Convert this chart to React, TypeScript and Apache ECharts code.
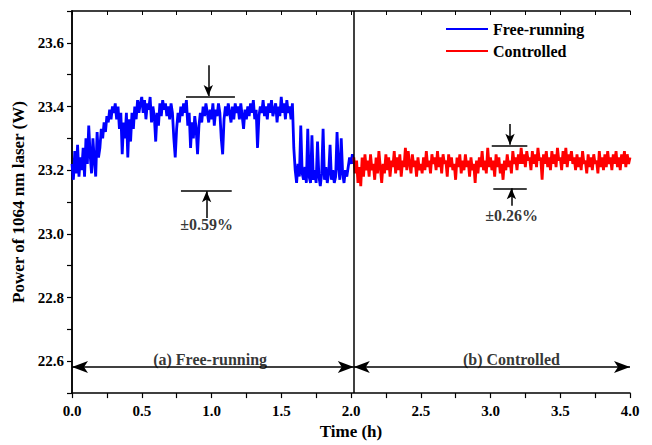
import React, { useEffect, useRef } from "react";
import * as echarts from "echarts";

// Sampling step of the recorded traces (hours)
const SAMPLE_STEP = 0.01;
const FREE_START = 0.0;
const CTRL_START = 2.02;

// Free-running laser power (W)
const freeRunning: number[] = [
  23.22, 23.17, 23.26, 23.19, 23.28, 23.18, 23.24, 23.2, 23.27, 23.18,
  23.3, 23.22, 23.34, 23.25, 23.19, 23.3, 23.23, 23.18, 23.32, 23.24,
  23.27, 23.33, 23.3, 23.35, 23.32, 23.37, 23.35, 23.39, 23.36, 23.4,
  23.38, 23.41, 23.36, 23.4, 23.33, 23.38, 23.25, 23.35, 23.3, 23.38,
  23.24, 23.36, 23.29, 23.38, 23.33, 23.4, 23.36, 23.42, 23.38, 23.41,
  23.43, 23.38, 23.42, 23.36, 23.41, 23.39, 23.43, 23.35, 23.4, 23.37,
  23.29, 23.38, 23.34, 23.41, 23.37, 23.42, 23.39, 23.41, 23.37, 23.4,
  23.36, 23.41, 23.38, 23.3, 23.24, 23.33, 23.38, 23.35, 23.4, 23.37,
  23.41, 23.38, 23.42, 23.34, 23.38, 23.27, 23.35, 23.3, 23.37, 23.33,
  23.25, 23.34, 23.38, 23.35, 23.4, 23.37, 23.41, 23.38, 23.35, 23.39,
  23.36, 23.41, 23.34, 23.39, 23.37, 23.41, 23.38, 23.3, 23.25, 23.36,
  23.4, 23.37, 23.41, 23.38, 23.35, 23.4, 23.36, 23.41, 23.38, 23.4,
  23.36, 23.41, 23.37, 23.33, 23.39, 23.36, 23.4, 23.37, 23.41, 23.38,
  23.42, 23.36, 23.39, 23.27, 23.37, 23.4, 23.38, 23.42, 23.37, 23.4,
  23.36, 23.41, 23.38, 23.42, 23.37, 23.39, 23.41, 23.35, 23.4, 23.37,
  23.43, 23.38, 23.41, 23.36, 23.42, 23.38, 23.4, 23.36, 23.41, 23.27,
  23.2, 23.16, 23.22, 23.18, 23.34, 23.19, 23.17, 23.21, 23.16, 23.33,
  23.18, 23.16, 23.31, 23.17, 23.2, 23.16, 23.29, 23.18, 23.15, 23.19,
  23.33, 23.17, 23.21, 23.16, 23.19, 23.28, 23.17, 23.2, 23.16, 23.18,
  23.32, 23.21, 23.17, 23.3, 23.19, 23.16, 23.2, 23.18, 23.21, 23.24,
  23.22, 23.25, 23.22,
];

// Controlled laser power (W)
const controlled: number[] = [
  23.24, 23.19, 23.23, 23.16, 23.21, 23.15, 23.24, 23.18, 23.25, 23.2,
  23.23, 23.18, 23.25, 23.2, 23.22, 23.17, 23.24, 23.19, 23.26, 23.21,
  23.16, 23.22, 23.19, 23.25, 23.2, 23.24, 23.18, 23.23, 23.21, 23.26,
  23.19, 23.24, 23.2, 23.25, 23.18, 23.23, 23.21, 23.27, 23.2, 23.26,
  23.22, 23.19, 23.25, 23.21, 23.23, 23.18, 23.24, 23.2, 23.22, 23.19,
  23.24, 23.2, 23.26, 23.21, 23.23, 23.19, 23.25, 23.22, 23.24, 23.2,
  23.26, 23.21, 23.24, 23.19, 23.25, 23.22, 23.23, 23.18, 23.25, 23.21,
  23.24, 23.2, 23.22, 23.17, 23.24, 23.21, 23.25, 23.19, 23.23, 23.2,
  23.25, 23.21, 23.23, 23.18, 23.24, 23.2, 23.22, 23.16, 23.23, 23.19,
  23.24, 23.21, 23.26, 23.2, 23.23, 23.19, 23.27, 23.21, 23.24, 23.2,
  23.23, 23.18, 23.25, 23.21, 23.24, 23.19, 23.22, 23.17, 23.23, 23.2,
  23.25, 23.21, 23.23, 23.19, 23.26, 23.22, 23.24, 23.2, 23.25, 23.22,
  23.27, 23.22, 23.25, 23.21, 23.26, 23.23, 23.24, 23.2, 23.26, 23.22,
  23.25, 23.21, 23.27, 23.23, 23.24, 23.17, 23.25, 23.22, 23.26, 23.21,
  23.24, 23.2, 23.26, 23.22, 23.25, 23.21, 23.27, 23.23, 23.24, 23.2,
  23.26, 23.22, 23.27, 23.21, 23.25, 23.23, 23.26, 23.22, 23.24, 23.2,
  23.25, 23.21, 23.24, 23.2, 23.26, 23.22, 23.23, 23.19, 23.25, 23.21,
  23.24, 23.2, 23.25, 23.22, 23.23, 23.19, 23.26, 23.21, 23.24, 23.2,
  23.25, 23.21, 23.26, 23.22, 23.24, 23.2, 23.25, 23.22, 23.26, 23.21,
  23.24, 23.2, 23.25, 23.22, 23.26, 23.21, 23.25, 23.22, 23.24,
];

// Annotation texts
const seriesNames = ["Free-running", "Controlled"];
const regionLabels = ["(a) Free-running", "(b) Controlled"];
const stabilityLabels = ["\u00B10.59%", "\u00B10.26%"];

const FONT = '"Liberation Serif", "Times New Roman", Tinos, "DejaVu Serif", serif';

export default function App() {
  const ref = useRef<HTMLDivElement>(null);

  useEffect(() => {
    if (!ref.current) return;
    document.body.style.margin = "0";
    const chart = echarts.init(ref.current, null, { renderer: "svg" });

    const freeData = freeRunning.map((v, i) => [
      +(FREE_START + i * SAMPLE_STEP).toFixed(2),
      v,
    ]);
    const ctrlData = controlled.map((v, i) => [
      +(CTRL_START + i * SAMPLE_STEP).toFixed(2),
      v,
    ]);

    const black = "#000";
    const bigArrow = [9, 16];
    const smallArrow = [7, 11];
    const seg = (a: number[], b: number[], sa: string, sb: string, size: number[]) => [
      { coord: a, symbol: sa, symbolSize: size },
      { coord: b, symbol: sb, symbolSize: size },
    ];

    const markLineData = [
      // divider
      seg([2.02, 22.5], [2.02, 23.7], "none", "none", [0, 0]),
      // region arrows
      seg([0, 22.582], [2.02, 22.582], "arrow", "arrow", bigArrow),
      seg([2.02, 22.582], [4.0, 22.582], "arrow", "arrow", bigArrow),
      // free-running band
      seg([0.817, 23.431], [1.168, 23.431], "none", "none", [0, 0]),
      seg([0.977, 23.53], [0.977, 23.433], "none", "arrow", smallArrow),
      seg([0.781, 23.136], [1.145, 23.136], "none", "none", [0, 0]),
      seg([0.965, 23.05], [0.965, 23.134], "none", "arrow", smallArrow),
      // controlled band
      seg([3.009, 23.278], [3.264, 23.278], "none", "none", [0, 0]),
      seg([3.14, 23.345], [3.14, 23.28], "none", "arrow", smallArrow),
      seg([3.02, 23.141], [3.26, 23.141], "none", "none", [0, 0]),
      seg([3.15, 23.088], [3.15, 23.143], "none", "arrow", smallArrow),
    ];

    const notes = [
      { value: [0.99, 22.607], name: regionLabels[0] },
      { value: [3.15, 22.607], name: regionLabels[1] },
      { value: [0.965, 23.028], name: stabilityLabels[0] },
      { value: [3.152, 23.058], name: stabilityLabels[1] },
    ];

    const axisText = { color: black, fontFamily: FONT, fontWeight: "bold", fontSize: 15 };

    chart.setOption({
      animation: false,
      textStyle: { fontFamily: FONT },
      grid: { left: 72, right: 22, top: 11, bottom: 47 },
      legend: {
        data: [
          { name: seriesNames[0], icon: "rect" },
          { name: seriesNames[1], icon: "rect" },
        ],
        orient: "vertical",
        left: 441,
        top: 16,
        itemWidth: 42,
        itemHeight: 2,
        itemGap: 6,
        textStyle: { color: black, fontFamily: FONT, fontWeight: "bold", fontSize: 16 },
        selectedMode: false,
      },
      xAxis: [
        {
          type: "value",
          min: 0,
          max: 4,
          interval: 0.25,
          splitLine: { show: false },
          axisLine: { lineStyle: { color: black, width: 1.5 } },
          axisTick: { length: 5, lineStyle: { color: black, width: 1.2 } },
          axisLabel: {
            ...axisText,
            margin: 10,
            formatter: (v: number) => (Math.round(v * 4) % 2 === 0 ? v.toFixed(1) : ""),
          },
          name: "Time (h)",
          nameLocation: "middle",
          nameGap: 29,
          nameTextStyle: { color: black, fontFamily: FONT, fontWeight: "bold", fontSize: 17 },
        },
        {
          type: "value",
          position: "top",
          min: 0,
          max: 4,
          interval: 0.25,
          splitLine: { show: false },
          axisLine: { lineStyle: { color: black, width: 1.5 } },
          axisTick: { inside: true, length: 4, lineStyle: { color: black, width: 1 } },
          axisLabel: { show: false },
        },
      ],
      yAxis: [
        {
          type: "value",
          min: 22.5,
          max: 23.7,
          interval: 0.1,
          splitLine: { show: false },
          axisLine: { show: true, lineStyle: { color: black, width: 1.5 } },
          axisTick: { show: true, length: 5, lineStyle: { color: black, width: 1.2 } },
          axisLabel: {
            ...axisText,
            margin: 8,
            formatter: (v: number) => (Math.round(v * 10) % 2 === 0 ? v.toFixed(1) : ""),
          },
          name: "Power of 1064 nm laser (W)",
          nameLocation: "middle",
          nameGap: 35,
          nameTextStyle: { color: black, fontFamily: FONT, fontWeight: "bold", fontSize: 17 },
        },
        {
          type: "value",
          position: "right",
          min: 22.5,
          max: 23.7,
          interval: 0.1,
          splitLine: { show: false },
          axisLine: { show: true, lineStyle: { color: black, width: 1.5 } },
          axisTick: { show: true, inside: true, length: 4, lineStyle: { color: black, width: 1 } },
          axisLabel: { show: false },
        },
      ],
      series: [
        {
          name: seriesNames[0],
          type: "line",
          data: freeData,
          symbol: "none",
          showSymbol: false,
          lineStyle: { color: "#0000ff", width: 2.8 },
          itemStyle: { color: "#0000ff" },
          silent: true,
        },
        {
          name: seriesNames[1],
          type: "line",
          data: ctrlData,
          symbol: "none",
          showSymbol: false,
          lineStyle: { color: "#ff0000", width: 2.8 },
          itemStyle: { color: "#ff0000" },
          silent: true,
        },
        {
          name: "notes",
          type: "scatter",
          data: notes,
          symbolSize: 1,
          itemStyle: { color: "rgba(0,0,0,0)" },
          silent: true,
          z: 5,
          label: {
            show: true,
            position: "inside",
            formatter: (p: any) => p.name,
            color: black,
            fontFamily: FONT,
            fontWeight: "bold",
            fontSize: 16,
          },
          markLine: {
            silent: true,
            animation: false,
            label: { show: false },
            lineStyle: { color: black, width: 1.5, type: "solid" },
            emphasis: { disabled: true },
            data: markLineData,
          },
        },
      ],
    });

    return () => chart.dispose();
  }, []);

  return <div ref={ref} style={{ width: 652, height: 445 }} />;
}
